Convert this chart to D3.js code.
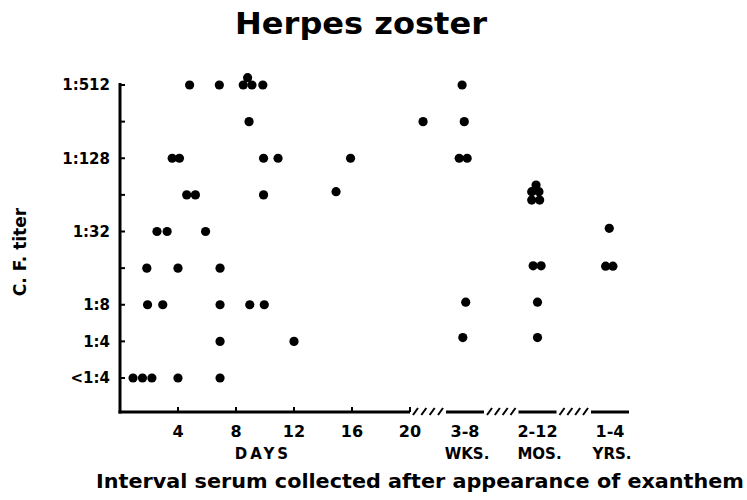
<!DOCTYPE html>
<html><head><meta charset="utf-8">
<script src="https://cdn.jsdelivr.net/npm/d3@7"></script>
<style>
html,body{margin:0;padding:0;background:#fff;}
svg{display:block;}
text{font-family:"DejaVu Sans",sans-serif;font-weight:bold;fill:#000;}
</style></head>
<body><svg id="chart" width="747" height="500"></svg>
<script>
// ---- data ----
const titleText = "Herpes  zoster";
const yTitle = "C. F. titer";
const xTitle = "Interval serum collected after appearance of exanthem";
const yTickTiters = [2, 4, 8, 16, 32, 64, 128, 256, 512];
const yTickLabels = ["<1:4", "1:4", "1:8", "", "1:32", "", "1:128", "", "1:512"];
const dayTicks = [4, 8, 12, 16, 20];
const dayLabel = "DAYS";
const categories = ["3-8", "2-12", "1-4"];
const categoryUnits = ["WKS.", "MOS.", "YRS."];
// points measured in days after exanthem
const dayValues = [4.8, 6.85, 8.5, 8.8, 9.1, 9.85,
  8.9, 20.9,
  3.6, 4.1, 9.9, 10.9, 15.9,
  4.6, 5.2, 9.9, 14.9,
  2.55, 3.25, 5.9,
  1.85, 4.0, 6.9,
  1.9, 2.95, 6.9, 8.95, 9.95,
  6.9, 12.0,
  0.9, 1.55, 2.2, 4.0, 6.9];
const dayTiters = [512, 512, 512, 588, 512, 512,
  256, 256,
  128, 128, 128, 128, 128,
  64, 64, 64, 68,
  32, 32, 32,
  16, 16, 16,
  8, 8, 8, 8, 8,
  4, 4,
  2, 2, 2, 2, 2];
// points in the later interval groups (position = group index 0,1,2, slightly spread)
const groupValues = [-0.04, -0.01, -0.08, 0.03, 0.01, -0.03,
  0.98, 0.92, 1.02, 0.92, 1.03, 0.94, 1.05, 1.0, 1.0,
  1.99, 1.94, 2.04];
const groupTiters = [512, 256, 128, 128, 8.4, 4.3,
  77, 68, 68, 58, 58, 16.7, 16.7, 8.4, 4.3,
  34, 16.6, 16.6];

// ---- layout ----
const svg = d3.select("#chart");
const yAxisX = 120, xAxisY = 412;
const y = d3.scaleLog().base(2).domain([2, 512]).range([378, 85]);
const xDay = d3.scaleLinear().domain([0, 20]).range([yAxisX, 410]);
const xGroup = d3.scaleLinear().domain([0, 2]).range([465, 610]);
const segHalf = 19;
const r = 4.6;

// title
svg.append("text").attr("x", 361).attr("y", 34).attr("text-anchor", "middle")
  .style("font-size", "31px").attr("textLength", 252).attr("lengthAdjust", "spacingAndGlyphs")
  .text(titleText);

// y axis line
svg.append("line").attr("x1", yAxisX).attr("x2", yAxisX)
  .attr("y1", y(512) - 2).attr("y2", xAxisY + 1.5)
  .attr("stroke", "#000").attr("stroke-width", 3);
// y ticks
svg.selectAll(".ytick").data(yTickTiters).join("line")
  .attr("x1", yAxisX).attr("x2", yAxisX + 5)
  .attr("y1", d => y(d)).attr("y2", d => y(d))
  .attr("stroke", "#000").attr("stroke-width", 2);
svg.selectAll(".ylab").data(yTickTiters).join("text")
  .attr("x", 110).attr("y", d => y(d)).attr("dy", "0.36em")
  .attr("text-anchor", "end").style("font-size", "15px")
  .text((d, i) => yTickLabels[i]);
// y title
svg.append("text").attr("transform", "translate(26,252) rotate(-90)")
  .attr("text-anchor", "middle").style("font-size", "17px").text(yTitle);

// x axis: day segment
svg.append("line").attr("x1", yAxisX - 1.5).attr("x2", xDay(20))
  .attr("y1", xAxisY).attr("y2", xAxisY).attr("stroke", "#000").attr("stroke-width", 3);
svg.selectAll(".xtick").data(dayTicks).join("line")
  .attr("x1", d => xDay(d)).attr("x2", d => xDay(d))
  .attr("y1", xAxisY).attr("y2", xAxisY - 5)
  .attr("stroke", "#000").attr("stroke-width", 2);
svg.selectAll(".xlab").data(dayTicks).join("text")
  .attr("x", d => xDay(d)).attr("y", 437).attr("text-anchor", "middle")
  .style("font-size", "16px").text(d => d);
svg.append("text").attr("x", 263).attr("y", 459).attr("text-anchor", "middle")
  .style("font-size", "15px").style("letter-spacing", "3px").text(dayLabel);

// group segments
categories.forEach((c, i) => {
  svg.append("line").attr("x1", xGroup(i) - segHalf).attr("x2", xGroup(i) + segHalf)
    .attr("y1", xAxisY).attr("y2", xAxisY).attr("stroke", "#000").attr("stroke-width", 3);
  svg.append("text").attr("x", xGroup(i)).attr("y", 437).attr("text-anchor", "middle")
    .style("font-size", "16px").text(c);
  svg.append("text").attr("x", xGroup(i) + 2).attr("y", 459).attr("text-anchor", "middle")
    .style("font-size", "15px").text(categoryUnits[i]);
});
// break marks (////) between segments
const gaps = [[xDay(20) + 3, xGroup(0) - segHalf - 3],
              [xGroup(0) + segHalf + 3, xGroup(1) - segHalf - 3],
              [xGroup(1) + segHalf + 3, xGroup(2) - segHalf - 3]];
gaps.forEach(([a, b]) => {
  const n = 4, step = (b - a - 5) / (n - 1);
  d3.range(n).forEach(k => {
    const x0 = a + k * step;
    svg.append("line").attr("x1", x0).attr("y1", xAxisY + 3)
      .attr("x2", x0 + 5).attr("y2", xAxisY - 4)
      .attr("stroke", "#000").attr("stroke-width", 2);
  });
});

// points
svg.selectAll(".dday").data(dayValues).join("circle")
  .attr("cx", d => xDay(d)).attr("cy", (d, i) => y(dayTiters[i])).attr("r", r).attr("fill", "#000");
svg.selectAll(".dgrp").data(groupValues).join("circle")
  .attr("cx", d => xGroup(d)).attr("cy", (d, i) => y(groupTiters[i])).attr("r", r).attr("fill", "#000");

// x title
svg.append("text").attr("x", 96).attr("y", 488)
  .style("font-size", "20px").attr("textLength", 648).attr("lengthAdjust", "spacingAndGlyphs")
  .text(xTitle);
</script></body></html>
